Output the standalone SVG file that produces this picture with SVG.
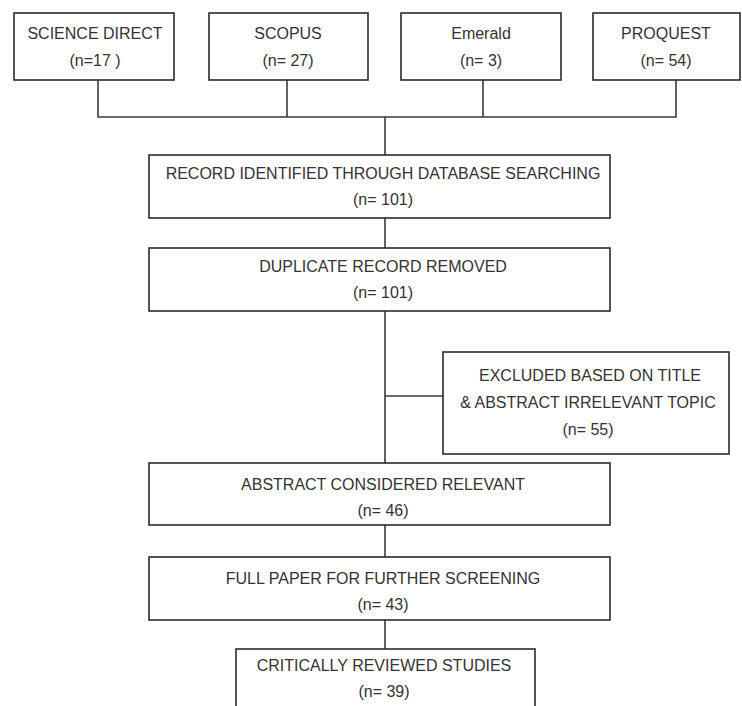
<svg xmlns="http://www.w3.org/2000/svg" width="742" height="706" viewBox="0 0 742 706">
<style>
.box{fill:#fff;stroke:#2b2b2b;stroke-width:1.6}
.ln{fill:none;stroke:#3a3a3a;stroke-width:1.6}
text{font-family:"Liberation Sans",Arial,sans-serif;font-size:16px;fill:#333;text-anchor:middle}
</style>
<rect width="742" height="706" fill="#fff"/>
<g id="connectors">
<path class="ln" d="M98,80V117H676V80M287,80V117M483,80V117M385,117V155"/>
<path class="ln" d="M385,218V248M385,311V463M385,396H443M385,525V557M385,620V649"/>
</g>
<g id="science-direct"><rect class="box" x="14" y="13" width="160" height="67"/><text x="95" y="39">SCIENCE DIRECT</text><text x="95" y="66">(n=17 )</text></g>
<g id="scopus"><rect class="box" x="209" y="13" width="159" height="67"/><text x="288" y="39">SCOPUS</text><text x="288" y="66">(n= 27)</text></g>
<g id="emerald"><rect class="box" x="401" y="13" width="160" height="67"/><text x="481" y="39">Emerald</text><text x="481" y="66">(n= 3)</text></g>
<g id="proquest"><rect class="box" x="593" y="13" width="147" height="67"/><text x="666" y="39">PROQUEST</text><text x="666" y="66">(n= 54)</text></g>
<g id="record"><rect class="box" x="149" y="155" width="461" height="63"/><text x="383" y="179">RECORD IDENTIFIED THROUGH DATABASE SEARCHING</text><text x="383" y="205">(n= 101)</text></g>
<g id="duplicate"><rect class="box" x="149" y="248" width="461" height="63"/><text x="383" y="272">DUPLICATE RECORD REMOVED</text><text x="383" y="298">(n= 101)</text></g>
<g id="excluded"><rect class="box" x="443" y="352" width="286" height="102"/><text x="590" y="381">EXCLUDED BASED ON TITLE</text><text x="588" y="408">&amp; ABSTRACT IRRELEVANT TOPIC</text><text x="588" y="435">(n= 55)</text></g>
<g id="abstract"><rect class="box" x="149" y="463" width="461" height="62"/><text x="383" y="490">ABSTRACT CONSIDERED RELEVANT</text><text x="383" y="516">(n= 46)</text></g>
<g id="fullpaper"><rect class="box" x="149" y="557" width="461" height="63"/><text x="383" y="584">FULL PAPER FOR FURTHER SCREENING</text><text x="383" y="610">(n= 43)</text></g>
<g id="critical"><rect class="box" x="236" y="649" width="299" height="70"/><text x="384" y="671">CRITICALLY REVIEWED STUDIES</text><text x="384" y="697">(n= 39)</text></g>
</svg>
